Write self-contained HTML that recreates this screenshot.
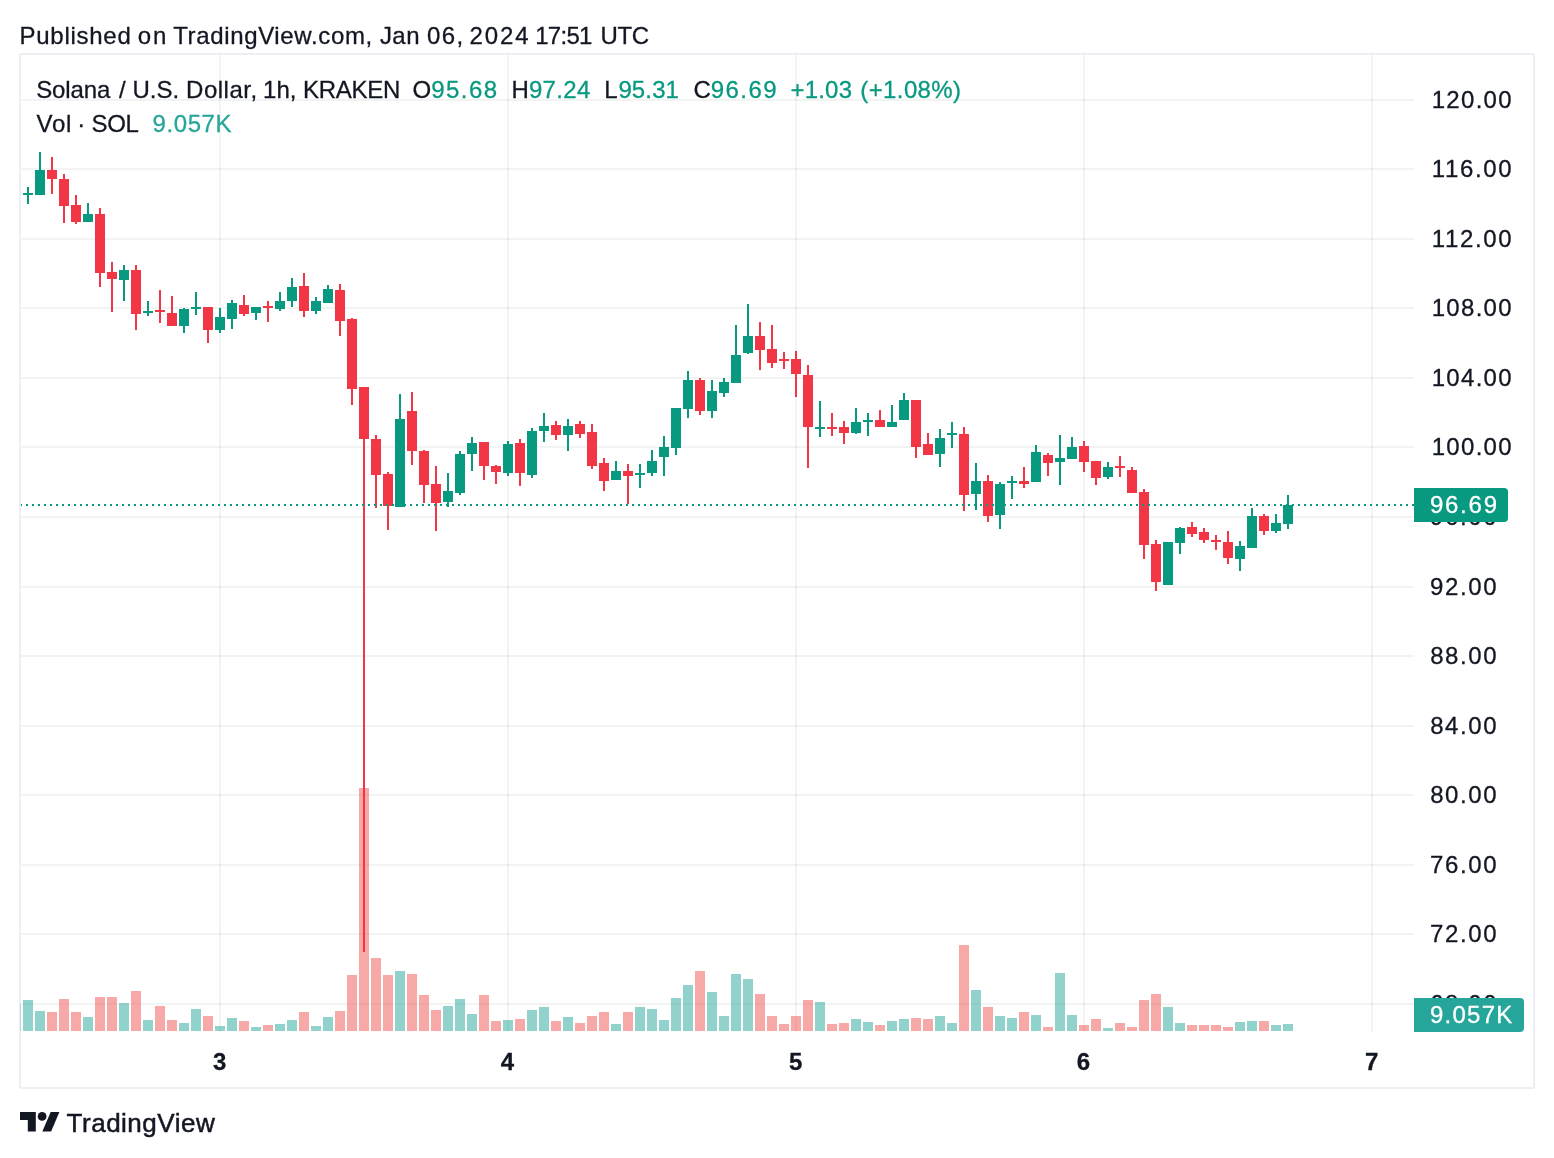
<!DOCTYPE html><html><head><meta charset="utf-8"><title>SOLUSD chart</title>
<style>html,body{margin:0;padding:0;background:#fff}body{width:1554px;height:1158px;overflow:hidden}svg{display:block}text{font-family:"Liberation Sans", Arial, sans-serif}</style></head><body>
<svg width="1554" height="1158" viewBox="0 0 1554 1158">
<rect width="1554" height="1158" fill="#fff"/>
<g shape-rendering="crispEdges" fill="rgba(42,46,57,0.06)">
<rect x="21" y="99" width="1393" height="2"/>
<rect x="21" y="168" width="1393" height="2"/>
<rect x="21" y="238" width="1393" height="2"/>
<rect x="21" y="307" width="1393" height="2"/>
<rect x="21" y="377" width="1393" height="2"/>
<rect x="21" y="446" width="1393" height="2"/>
<rect x="21" y="516" width="1393" height="2"/>
<rect x="21" y="586" width="1393" height="2"/>
<rect x="21" y="655" width="1393" height="2"/>
<rect x="21" y="725" width="1393" height="2"/>
<rect x="21" y="794" width="1393" height="2"/>
<rect x="21" y="864" width="1393" height="2"/>
<rect x="21" y="933" width="1393" height="2"/>
<rect x="21" y="1003" width="1393" height="2"/>
<rect x="219" y="55" width="2" height="977"/>
<rect x="507" y="55" width="2" height="977"/>
<rect x="795" y="55" width="2" height="977"/>
<rect x="1083" y="55" width="2" height="977"/>
<rect x="1371" y="55" width="2" height="977"/>
</g>
<g shape-rendering="crispEdges">
<rect x="23" y="1000" width="10" height="31" fill="rgba(38,166,154,0.5)"/>
<rect x="35" y="1011" width="10" height="20" fill="rgba(38,166,154,0.5)"/>
<rect x="47" y="1012" width="10" height="19" fill="rgba(239,83,80,0.5)"/>
<rect x="59" y="999" width="10" height="32" fill="rgba(239,83,80,0.5)"/>
<rect x="71" y="1012" width="10" height="19" fill="rgba(239,83,80,0.5)"/>
<rect x="83" y="1017" width="10" height="14" fill="rgba(38,166,154,0.5)"/>
<rect x="95" y="997" width="10" height="34" fill="rgba(239,83,80,0.5)"/>
<rect x="107" y="997" width="10" height="34" fill="rgba(239,83,80,0.5)"/>
<rect x="119" y="1003" width="10" height="28" fill="rgba(38,166,154,0.5)"/>
<rect x="131" y="991" width="10" height="40" fill="rgba(239,83,80,0.5)"/>
<rect x="143" y="1020" width="10" height="11" fill="rgba(38,166,154,0.5)"/>
<rect x="155" y="1006" width="10" height="25" fill="rgba(239,83,80,0.5)"/>
<rect x="167" y="1020" width="10" height="11" fill="rgba(239,83,80,0.5)"/>
<rect x="179" y="1023" width="10" height="8" fill="rgba(38,166,154,0.5)"/>
<rect x="191" y="1009" width="10" height="22" fill="rgba(38,166,154,0.5)"/>
<rect x="203" y="1016" width="10" height="15" fill="rgba(239,83,80,0.5)"/>
<rect x="215" y="1026" width="10" height="5" fill="rgba(38,166,154,0.5)"/>
<rect x="227" y="1018" width="10" height="13" fill="rgba(38,166,154,0.5)"/>
<rect x="239" y="1021" width="10" height="10" fill="rgba(239,83,80,0.5)"/>
<rect x="251" y="1027" width="10" height="4" fill="rgba(38,166,154,0.5)"/>
<rect x="263" y="1025" width="10" height="6" fill="rgba(239,83,80,0.5)"/>
<rect x="275" y="1024" width="10" height="7" fill="rgba(38,166,154,0.5)"/>
<rect x="287" y="1020" width="10" height="11" fill="rgba(38,166,154,0.5)"/>
<rect x="299" y="1012" width="10" height="19" fill="rgba(239,83,80,0.5)"/>
<rect x="311" y="1026" width="10" height="5" fill="rgba(38,166,154,0.5)"/>
<rect x="323" y="1017" width="10" height="14" fill="rgba(38,166,154,0.5)"/>
<rect x="335" y="1011" width="10" height="20" fill="rgba(239,83,80,0.5)"/>
<rect x="347" y="975" width="10" height="56" fill="rgba(239,83,80,0.5)"/>
<rect x="359" y="788" width="10" height="243" fill="rgba(239,83,80,0.5)"/>
<rect x="371" y="958" width="10" height="73" fill="rgba(239,83,80,0.5)"/>
<rect x="383" y="975" width="10" height="56" fill="rgba(239,83,80,0.5)"/>
<rect x="395" y="971" width="10" height="60" fill="rgba(38,166,154,0.5)"/>
<rect x="407" y="974" width="10" height="57" fill="rgba(239,83,80,0.5)"/>
<rect x="419" y="995" width="10" height="36" fill="rgba(239,83,80,0.5)"/>
<rect x="431" y="1010" width="10" height="21" fill="rgba(239,83,80,0.5)"/>
<rect x="443" y="1006" width="10" height="25" fill="rgba(38,166,154,0.5)"/>
<rect x="455" y="999" width="10" height="32" fill="rgba(38,166,154,0.5)"/>
<rect x="467" y="1014" width="10" height="17" fill="rgba(38,166,154,0.5)"/>
<rect x="479" y="995" width="10" height="36" fill="rgba(239,83,80,0.5)"/>
<rect x="491" y="1021" width="10" height="10" fill="rgba(239,83,80,0.5)"/>
<rect x="503" y="1020" width="10" height="11" fill="rgba(38,166,154,0.5)"/>
<rect x="515" y="1019" width="10" height="12" fill="rgba(239,83,80,0.5)"/>
<rect x="527" y="1010" width="10" height="21" fill="rgba(38,166,154,0.5)"/>
<rect x="539" y="1007" width="10" height="24" fill="rgba(38,166,154,0.5)"/>
<rect x="551" y="1021" width="10" height="10" fill="rgba(239,83,80,0.5)"/>
<rect x="563" y="1017" width="10" height="14" fill="rgba(38,166,154,0.5)"/>
<rect x="575" y="1023" width="10" height="8" fill="rgba(239,83,80,0.5)"/>
<rect x="587" y="1016" width="10" height="15" fill="rgba(239,83,80,0.5)"/>
<rect x="599" y="1012" width="10" height="19" fill="rgba(239,83,80,0.5)"/>
<rect x="611" y="1024" width="10" height="7" fill="rgba(38,166,154,0.5)"/>
<rect x="623" y="1012" width="10" height="19" fill="rgba(239,83,80,0.5)"/>
<rect x="635" y="1007" width="10" height="24" fill="rgba(38,166,154,0.5)"/>
<rect x="647" y="1009" width="10" height="22" fill="rgba(38,166,154,0.5)"/>
<rect x="659" y="1020" width="10" height="11" fill="rgba(38,166,154,0.5)"/>
<rect x="671" y="998" width="10" height="33" fill="rgba(38,166,154,0.5)"/>
<rect x="683" y="985" width="10" height="46" fill="rgba(38,166,154,0.5)"/>
<rect x="695" y="971" width="10" height="60" fill="rgba(239,83,80,0.5)"/>
<rect x="707" y="992" width="10" height="39" fill="rgba(38,166,154,0.5)"/>
<rect x="719" y="1016" width="10" height="15" fill="rgba(38,166,154,0.5)"/>
<rect x="731" y="974" width="10" height="57" fill="rgba(38,166,154,0.5)"/>
<rect x="743" y="979" width="10" height="52" fill="rgba(38,166,154,0.5)"/>
<rect x="755" y="994" width="10" height="37" fill="rgba(239,83,80,0.5)"/>
<rect x="767" y="1016" width="10" height="15" fill="rgba(239,83,80,0.5)"/>
<rect x="779" y="1024" width="10" height="7" fill="rgba(239,83,80,0.5)"/>
<rect x="791" y="1016" width="10" height="15" fill="rgba(239,83,80,0.5)"/>
<rect x="803" y="1000" width="10" height="31" fill="rgba(239,83,80,0.5)"/>
<rect x="815" y="1002" width="10" height="29" fill="rgba(38,166,154,0.5)"/>
<rect x="827" y="1024" width="10" height="7" fill="rgba(239,83,80,0.5)"/>
<rect x="839" y="1023" width="10" height="8" fill="rgba(239,83,80,0.5)"/>
<rect x="851" y="1019" width="10" height="12" fill="rgba(38,166,154,0.5)"/>
<rect x="863" y="1022" width="10" height="9" fill="rgba(38,166,154,0.5)"/>
<rect x="875" y="1025" width="10" height="6" fill="rgba(239,83,80,0.5)"/>
<rect x="887" y="1021" width="10" height="10" fill="rgba(38,166,154,0.5)"/>
<rect x="899" y="1019" width="10" height="12" fill="rgba(38,166,154,0.5)"/>
<rect x="911" y="1018" width="10" height="13" fill="rgba(239,83,80,0.5)"/>
<rect x="923" y="1019" width="10" height="12" fill="rgba(239,83,80,0.5)"/>
<rect x="935" y="1016" width="10" height="15" fill="rgba(38,166,154,0.5)"/>
<rect x="947" y="1023" width="10" height="8" fill="rgba(38,166,154,0.5)"/>
<rect x="959" y="945" width="10" height="86" fill="rgba(239,83,80,0.5)"/>
<rect x="971" y="990" width="10" height="41" fill="rgba(38,166,154,0.5)"/>
<rect x="983" y="1007" width="10" height="24" fill="rgba(239,83,80,0.5)"/>
<rect x="995" y="1016" width="10" height="15" fill="rgba(38,166,154,0.5)"/>
<rect x="1007" y="1018" width="10" height="13" fill="rgba(38,166,154,0.5)"/>
<rect x="1019" y="1012" width="10" height="19" fill="rgba(239,83,80,0.5)"/>
<rect x="1031" y="1015" width="10" height="16" fill="rgba(38,166,154,0.5)"/>
<rect x="1043" y="1027" width="10" height="4" fill="rgba(239,83,80,0.5)"/>
<rect x="1055" y="973" width="10" height="58" fill="rgba(38,166,154,0.5)"/>
<rect x="1067" y="1015" width="10" height="16" fill="rgba(38,166,154,0.5)"/>
<rect x="1079" y="1025" width="10" height="6" fill="rgba(239,83,80,0.5)"/>
<rect x="1091" y="1019" width="10" height="12" fill="rgba(239,83,80,0.5)"/>
<rect x="1103" y="1028" width="10" height="3" fill="rgba(38,166,154,0.5)"/>
<rect x="1115" y="1023" width="10" height="8" fill="rgba(239,83,80,0.5)"/>
<rect x="1127" y="1027" width="10" height="4" fill="rgba(239,83,80,0.5)"/>
<rect x="1139" y="1000" width="10" height="31" fill="rgba(239,83,80,0.5)"/>
<rect x="1151" y="994" width="10" height="37" fill="rgba(239,83,80,0.5)"/>
<rect x="1163" y="1007" width="10" height="24" fill="rgba(38,166,154,0.5)"/>
<rect x="1175" y="1023" width="10" height="8" fill="rgba(38,166,154,0.5)"/>
<rect x="1187" y="1025" width="10" height="6" fill="rgba(239,83,80,0.5)"/>
<rect x="1199" y="1025" width="10" height="6" fill="rgba(239,83,80,0.5)"/>
<rect x="1211" y="1025" width="10" height="6" fill="rgba(239,83,80,0.5)"/>
<rect x="1223" y="1027" width="10" height="4" fill="rgba(239,83,80,0.5)"/>
<rect x="1235" y="1022" width="10" height="9" fill="rgba(38,166,154,0.5)"/>
<rect x="1247" y="1021" width="10" height="10" fill="rgba(38,166,154,0.5)"/>
<rect x="1259" y="1021" width="10" height="10" fill="rgba(239,83,80,0.5)"/>
<rect x="1271" y="1025" width="10" height="6" fill="rgba(38,166,154,0.5)"/>
<rect x="1283" y="1024" width="10" height="7" fill="rgba(38,166,154,0.5)"/>
</g>
<g shape-rendering="crispEdges" fill="#089981">
<rect x="27" y="187" width="2" height="17"/>
<rect x="23" y="193" width="10" height="2"/>
<rect x="39" y="152" width="2" height="43"/>
<rect x="35" y="170" width="10" height="25"/>
<rect x="87" y="203" width="2" height="19"/>
<rect x="83" y="214" width="10" height="8"/>
<rect x="123" y="265" width="2" height="36"/>
<rect x="119" y="270" width="10" height="10"/>
<rect x="147" y="301" width="2" height="15"/>
<rect x="143" y="311" width="10" height="2"/>
<rect x="183" y="308" width="2" height="25"/>
<rect x="179" y="309" width="10" height="17"/>
<rect x="195" y="292" width="2" height="23"/>
<rect x="191" y="307" width="10" height="2"/>
<rect x="219" y="308" width="2" height="25"/>
<rect x="215" y="317" width="10" height="13"/>
<rect x="231" y="300" width="2" height="29"/>
<rect x="227" y="303" width="10" height="16"/>
<rect x="255" y="307" width="2" height="13"/>
<rect x="251" y="307" width="10" height="6"/>
<rect x="279" y="292" width="2" height="19"/>
<rect x="275" y="301" width="10" height="8"/>
<rect x="291" y="278" width="2" height="29"/>
<rect x="287" y="287" width="10" height="14"/>
<rect x="315" y="297" width="2" height="17"/>
<rect x="311" y="301" width="10" height="10"/>
<rect x="327" y="285" width="2" height="18"/>
<rect x="323" y="289" width="10" height="14"/>
<rect x="399" y="394" width="2" height="113"/>
<rect x="395" y="419" width="10" height="88"/>
<rect x="447" y="473" width="2" height="34"/>
<rect x="443" y="491" width="10" height="11"/>
<rect x="459" y="451" width="2" height="44"/>
<rect x="455" y="454" width="10" height="39"/>
<rect x="471" y="437" width="2" height="34"/>
<rect x="467" y="443" width="10" height="11"/>
<rect x="507" y="441" width="2" height="35"/>
<rect x="503" y="444" width="10" height="29"/>
<rect x="531" y="428" width="2" height="50"/>
<rect x="527" y="431" width="10" height="44"/>
<rect x="543" y="413" width="2" height="29"/>
<rect x="539" y="426" width="10" height="5"/>
<rect x="567" y="419" width="2" height="32"/>
<rect x="563" y="426" width="10" height="9"/>
<rect x="615" y="461" width="2" height="19"/>
<rect x="611" y="471" width="10" height="9"/>
<rect x="639" y="464" width="2" height="24"/>
<rect x="635" y="473" width="10" height="2"/>
<rect x="651" y="450" width="2" height="26"/>
<rect x="647" y="461" width="10" height="12"/>
<rect x="663" y="436" width="2" height="40"/>
<rect x="659" y="447" width="10" height="10"/>
<rect x="675" y="408" width="2" height="47"/>
<rect x="671" y="408" width="10" height="40"/>
<rect x="687" y="371" width="2" height="47"/>
<rect x="683" y="380" width="10" height="29"/>
<rect x="711" y="380" width="2" height="38"/>
<rect x="707" y="391" width="10" height="20"/>
<rect x="723" y="378" width="2" height="19"/>
<rect x="719" y="382" width="10" height="11"/>
<rect x="735" y="325" width="2" height="58"/>
<rect x="731" y="355" width="10" height="28"/>
<rect x="747" y="304" width="2" height="50"/>
<rect x="743" y="336" width="10" height="17"/>
<rect x="819" y="401" width="2" height="36"/>
<rect x="815" y="427" width="10" height="2"/>
<rect x="855" y="408" width="2" height="26"/>
<rect x="851" y="422" width="10" height="11"/>
<rect x="867" y="413" width="2" height="23"/>
<rect x="863" y="420" width="10" height="2"/>
<rect x="891" y="405" width="2" height="22"/>
<rect x="887" y="422" width="10" height="5"/>
<rect x="903" y="393" width="2" height="27"/>
<rect x="899" y="400" width="10" height="20"/>
<rect x="939" y="429" width="2" height="38"/>
<rect x="935" y="438" width="10" height="16"/>
<rect x="951" y="422" width="2" height="26"/>
<rect x="947" y="433" width="10" height="2"/>
<rect x="975" y="463" width="2" height="47"/>
<rect x="971" y="481" width="10" height="13"/>
<rect x="999" y="482" width="2" height="47"/>
<rect x="995" y="484" width="10" height="31"/>
<rect x="1011" y="476" width="2" height="23"/>
<rect x="1007" y="481" width="10" height="2"/>
<rect x="1035" y="445" width="2" height="37"/>
<rect x="1031" y="452" width="10" height="30"/>
<rect x="1059" y="435" width="2" height="50"/>
<rect x="1055" y="458" width="10" height="4"/>
<rect x="1071" y="437" width="2" height="22"/>
<rect x="1067" y="447" width="10" height="12"/>
<rect x="1107" y="462" width="2" height="17"/>
<rect x="1103" y="467" width="10" height="10"/>
<rect x="1167" y="542" width="2" height="43"/>
<rect x="1163" y="542" width="10" height="43"/>
<rect x="1179" y="527" width="2" height="27"/>
<rect x="1175" y="528" width="10" height="15"/>
<rect x="1239" y="541" width="2" height="30"/>
<rect x="1235" y="546" width="10" height="13"/>
<rect x="1251" y="508" width="2" height="40"/>
<rect x="1247" y="516" width="10" height="32"/>
<rect x="1275" y="514" width="2" height="19"/>
<rect x="1271" y="523" width="10" height="8"/>
<rect x="1287" y="495" width="2" height="34"/>
<rect x="1283" y="505" width="10" height="19"/>
</g>
<g shape-rendering="crispEdges" fill="#F23645">
<rect x="51" y="157" width="2" height="37"/>
<rect x="47" y="170" width="10" height="9"/>
<rect x="63" y="174" width="2" height="49"/>
<rect x="59" y="179" width="10" height="27"/>
<rect x="75" y="195" width="2" height="29"/>
<rect x="71" y="205" width="10" height="17"/>
<rect x="99" y="208" width="2" height="79"/>
<rect x="95" y="214" width="10" height="59"/>
<rect x="111" y="262" width="2" height="50"/>
<rect x="107" y="272" width="10" height="7"/>
<rect x="135" y="265" width="2" height="65"/>
<rect x="131" y="270" width="10" height="44"/>
<rect x="159" y="290" width="2" height="33"/>
<rect x="155" y="310" width="10" height="2"/>
<rect x="171" y="296" width="2" height="30"/>
<rect x="167" y="313" width="10" height="13"/>
<rect x="207" y="307" width="2" height="36"/>
<rect x="203" y="307" width="10" height="23"/>
<rect x="243" y="295" width="2" height="21"/>
<rect x="239" y="305" width="10" height="9"/>
<rect x="267" y="301" width="2" height="21"/>
<rect x="263" y="306" width="10" height="2"/>
<rect x="303" y="273" width="2" height="44"/>
<rect x="299" y="286" width="10" height="25"/>
<rect x="339" y="284" width="2" height="52"/>
<rect x="335" y="290" width="10" height="31"/>
<rect x="351" y="318" width="2" height="87"/>
<rect x="347" y="319" width="10" height="70"/>
<rect x="363" y="387" width="2" height="565"/>
<rect x="359" y="387" width="10" height="52"/>
<rect x="375" y="435" width="2" height="73"/>
<rect x="371" y="439" width="10" height="36"/>
<rect x="387" y="472" width="2" height="58"/>
<rect x="383" y="474" width="10" height="32"/>
<rect x="411" y="392" width="2" height="73"/>
<rect x="407" y="411" width="10" height="40"/>
<rect x="423" y="450" width="2" height="53"/>
<rect x="419" y="451" width="10" height="34"/>
<rect x="435" y="466" width="2" height="65"/>
<rect x="431" y="484" width="10" height="19"/>
<rect x="483" y="442" width="2" height="38"/>
<rect x="479" y="442" width="10" height="24"/>
<rect x="495" y="465" width="2" height="19"/>
<rect x="491" y="466" width="10" height="6"/>
<rect x="519" y="439" width="2" height="47"/>
<rect x="515" y="443" width="10" height="30"/>
<rect x="555" y="421" width="2" height="19"/>
<rect x="551" y="425" width="10" height="10"/>
<rect x="579" y="421" width="2" height="17"/>
<rect x="575" y="424" width="10" height="10"/>
<rect x="591" y="424" width="2" height="45"/>
<rect x="587" y="432" width="10" height="34"/>
<rect x="603" y="458" width="2" height="33"/>
<rect x="599" y="463" width="10" height="18"/>
<rect x="627" y="464" width="2" height="40"/>
<rect x="623" y="471" width="10" height="5"/>
<rect x="699" y="378" width="2" height="37"/>
<rect x="695" y="380" width="10" height="31"/>
<rect x="759" y="322" width="2" height="48"/>
<rect x="755" y="336" width="10" height="14"/>
<rect x="771" y="325" width="2" height="43"/>
<rect x="767" y="349" width="10" height="14"/>
<rect x="783" y="352" width="2" height="17"/>
<rect x="779" y="359" width="10" height="2"/>
<rect x="795" y="351" width="2" height="46"/>
<rect x="791" y="359" width="10" height="15"/>
<rect x="807" y="365" width="2" height="103"/>
<rect x="803" y="375" width="10" height="52"/>
<rect x="831" y="413" width="2" height="23"/>
<rect x="827" y="427" width="10" height="2"/>
<rect x="843" y="421" width="2" height="23"/>
<rect x="839" y="427" width="10" height="6"/>
<rect x="879" y="410" width="2" height="17"/>
<rect x="875" y="420" width="10" height="7"/>
<rect x="915" y="400" width="2" height="58"/>
<rect x="911" y="400" width="10" height="47"/>
<rect x="927" y="433" width="2" height="22"/>
<rect x="923" y="444" width="10" height="11"/>
<rect x="963" y="427" width="2" height="84"/>
<rect x="959" y="434" width="10" height="61"/>
<rect x="987" y="475" width="2" height="47"/>
<rect x="983" y="481" width="10" height="35"/>
<rect x="1023" y="467" width="2" height="21"/>
<rect x="1019" y="481" width="10" height="3"/>
<rect x="1047" y="453" width="2" height="23"/>
<rect x="1043" y="455" width="10" height="8"/>
<rect x="1083" y="441" width="2" height="31"/>
<rect x="1079" y="446" width="10" height="16"/>
<rect x="1095" y="461" width="2" height="24"/>
<rect x="1091" y="461" width="10" height="17"/>
<rect x="1119" y="456" width="2" height="21"/>
<rect x="1115" y="466" width="10" height="2"/>
<rect x="1131" y="467" width="2" height="26"/>
<rect x="1127" y="470" width="10" height="23"/>
<rect x="1143" y="489" width="2" height="70"/>
<rect x="1139" y="492" width="10" height="53"/>
<rect x="1155" y="540" width="2" height="51"/>
<rect x="1151" y="544" width="10" height="38"/>
<rect x="1191" y="522" width="2" height="15"/>
<rect x="1187" y="527" width="10" height="7"/>
<rect x="1203" y="528" width="2" height="15"/>
<rect x="1199" y="532" width="10" height="8"/>
<rect x="1215" y="535" width="2" height="15"/>
<rect x="1211" y="540" width="10" height="2"/>
<rect x="1227" y="531" width="2" height="33"/>
<rect x="1223" y="542" width="10" height="16"/>
<rect x="1263" y="514" width="2" height="21"/>
<rect x="1259" y="516" width="10" height="15"/>
</g>
<g shape-rendering="crispEdges" fill="#089981">
<rect x="20" y="504" width="2" height="2"/>
<rect x="26" y="504" width="2" height="2"/>
<rect x="32" y="504" width="2" height="2"/>
<rect x="38" y="504" width="2" height="2"/>
<rect x="44" y="504" width="2" height="2"/>
<rect x="50" y="504" width="2" height="2"/>
<rect x="56" y="504" width="2" height="2"/>
<rect x="62" y="504" width="2" height="2"/>
<rect x="68" y="504" width="2" height="2"/>
<rect x="74" y="504" width="2" height="2"/>
<rect x="80" y="504" width="2" height="2"/>
<rect x="86" y="504" width="2" height="2"/>
<rect x="92" y="504" width="2" height="2"/>
<rect x="98" y="504" width="2" height="2"/>
<rect x="104" y="504" width="2" height="2"/>
<rect x="110" y="504" width="2" height="2"/>
<rect x="116" y="504" width="2" height="2"/>
<rect x="122" y="504" width="2" height="2"/>
<rect x="128" y="504" width="2" height="2"/>
<rect x="134" y="504" width="2" height="2"/>
<rect x="140" y="504" width="2" height="2"/>
<rect x="146" y="504" width="2" height="2"/>
<rect x="152" y="504" width="2" height="2"/>
<rect x="158" y="504" width="2" height="2"/>
<rect x="164" y="504" width="2" height="2"/>
<rect x="170" y="504" width="2" height="2"/>
<rect x="176" y="504" width="2" height="2"/>
<rect x="182" y="504" width="2" height="2"/>
<rect x="188" y="504" width="2" height="2"/>
<rect x="194" y="504" width="2" height="2"/>
<rect x="200" y="504" width="2" height="2"/>
<rect x="206" y="504" width="2" height="2"/>
<rect x="212" y="504" width="2" height="2"/>
<rect x="218" y="504" width="2" height="2"/>
<rect x="224" y="504" width="2" height="2"/>
<rect x="230" y="504" width="2" height="2"/>
<rect x="236" y="504" width="2" height="2"/>
<rect x="242" y="504" width="2" height="2"/>
<rect x="248" y="504" width="2" height="2"/>
<rect x="254" y="504" width="2" height="2"/>
<rect x="260" y="504" width="2" height="2"/>
<rect x="266" y="504" width="2" height="2"/>
<rect x="272" y="504" width="2" height="2"/>
<rect x="278" y="504" width="2" height="2"/>
<rect x="284" y="504" width="2" height="2"/>
<rect x="290" y="504" width="2" height="2"/>
<rect x="296" y="504" width="2" height="2"/>
<rect x="302" y="504" width="2" height="2"/>
<rect x="308" y="504" width="2" height="2"/>
<rect x="314" y="504" width="2" height="2"/>
<rect x="320" y="504" width="2" height="2"/>
<rect x="326" y="504" width="2" height="2"/>
<rect x="332" y="504" width="2" height="2"/>
<rect x="338" y="504" width="2" height="2"/>
<rect x="344" y="504" width="2" height="2"/>
<rect x="350" y="504" width="2" height="2"/>
<rect x="356" y="504" width="2" height="2"/>
<rect x="362" y="504" width="2" height="2"/>
<rect x="368" y="504" width="2" height="2"/>
<rect x="374" y="504" width="2" height="2"/>
<rect x="380" y="504" width="2" height="2"/>
<rect x="386" y="504" width="2" height="2"/>
<rect x="392" y="504" width="2" height="2"/>
<rect x="398" y="504" width="2" height="2"/>
<rect x="404" y="504" width="2" height="2"/>
<rect x="410" y="504" width="2" height="2"/>
<rect x="416" y="504" width="2" height="2"/>
<rect x="422" y="504" width="2" height="2"/>
<rect x="428" y="504" width="2" height="2"/>
<rect x="434" y="504" width="2" height="2"/>
<rect x="440" y="504" width="2" height="2"/>
<rect x="446" y="504" width="2" height="2"/>
<rect x="452" y="504" width="2" height="2"/>
<rect x="458" y="504" width="2" height="2"/>
<rect x="464" y="504" width="2" height="2"/>
<rect x="470" y="504" width="2" height="2"/>
<rect x="476" y="504" width="2" height="2"/>
<rect x="482" y="504" width="2" height="2"/>
<rect x="488" y="504" width="2" height="2"/>
<rect x="494" y="504" width="2" height="2"/>
<rect x="500" y="504" width="2" height="2"/>
<rect x="506" y="504" width="2" height="2"/>
<rect x="512" y="504" width="2" height="2"/>
<rect x="518" y="504" width="2" height="2"/>
<rect x="524" y="504" width="2" height="2"/>
<rect x="530" y="504" width="2" height="2"/>
<rect x="536" y="504" width="2" height="2"/>
<rect x="542" y="504" width="2" height="2"/>
<rect x="548" y="504" width="2" height="2"/>
<rect x="554" y="504" width="2" height="2"/>
<rect x="560" y="504" width="2" height="2"/>
<rect x="566" y="504" width="2" height="2"/>
<rect x="572" y="504" width="2" height="2"/>
<rect x="578" y="504" width="2" height="2"/>
<rect x="584" y="504" width="2" height="2"/>
<rect x="590" y="504" width="2" height="2"/>
<rect x="596" y="504" width="2" height="2"/>
<rect x="602" y="504" width="2" height="2"/>
<rect x="608" y="504" width="2" height="2"/>
<rect x="614" y="504" width="2" height="2"/>
<rect x="620" y="504" width="2" height="2"/>
<rect x="626" y="504" width="2" height="2"/>
<rect x="632" y="504" width="2" height="2"/>
<rect x="638" y="504" width="2" height="2"/>
<rect x="644" y="504" width="2" height="2"/>
<rect x="650" y="504" width="2" height="2"/>
<rect x="656" y="504" width="2" height="2"/>
<rect x="662" y="504" width="2" height="2"/>
<rect x="668" y="504" width="2" height="2"/>
<rect x="674" y="504" width="2" height="2"/>
<rect x="680" y="504" width="2" height="2"/>
<rect x="686" y="504" width="2" height="2"/>
<rect x="692" y="504" width="2" height="2"/>
<rect x="698" y="504" width="2" height="2"/>
<rect x="704" y="504" width="2" height="2"/>
<rect x="710" y="504" width="2" height="2"/>
<rect x="716" y="504" width="2" height="2"/>
<rect x="722" y="504" width="2" height="2"/>
<rect x="728" y="504" width="2" height="2"/>
<rect x="734" y="504" width="2" height="2"/>
<rect x="740" y="504" width="2" height="2"/>
<rect x="746" y="504" width="2" height="2"/>
<rect x="752" y="504" width="2" height="2"/>
<rect x="758" y="504" width="2" height="2"/>
<rect x="764" y="504" width="2" height="2"/>
<rect x="770" y="504" width="2" height="2"/>
<rect x="776" y="504" width="2" height="2"/>
<rect x="782" y="504" width="2" height="2"/>
<rect x="788" y="504" width="2" height="2"/>
<rect x="794" y="504" width="2" height="2"/>
<rect x="800" y="504" width="2" height="2"/>
<rect x="806" y="504" width="2" height="2"/>
<rect x="812" y="504" width="2" height="2"/>
<rect x="818" y="504" width="2" height="2"/>
<rect x="824" y="504" width="2" height="2"/>
<rect x="830" y="504" width="2" height="2"/>
<rect x="836" y="504" width="2" height="2"/>
<rect x="842" y="504" width="2" height="2"/>
<rect x="848" y="504" width="2" height="2"/>
<rect x="854" y="504" width="2" height="2"/>
<rect x="860" y="504" width="2" height="2"/>
<rect x="866" y="504" width="2" height="2"/>
<rect x="872" y="504" width="2" height="2"/>
<rect x="878" y="504" width="2" height="2"/>
<rect x="884" y="504" width="2" height="2"/>
<rect x="890" y="504" width="2" height="2"/>
<rect x="896" y="504" width="2" height="2"/>
<rect x="902" y="504" width="2" height="2"/>
<rect x="908" y="504" width="2" height="2"/>
<rect x="914" y="504" width="2" height="2"/>
<rect x="920" y="504" width="2" height="2"/>
<rect x="926" y="504" width="2" height="2"/>
<rect x="932" y="504" width="2" height="2"/>
<rect x="938" y="504" width="2" height="2"/>
<rect x="944" y="504" width="2" height="2"/>
<rect x="950" y="504" width="2" height="2"/>
<rect x="956" y="504" width="2" height="2"/>
<rect x="962" y="504" width="2" height="2"/>
<rect x="968" y="504" width="2" height="2"/>
<rect x="974" y="504" width="2" height="2"/>
<rect x="980" y="504" width="2" height="2"/>
<rect x="986" y="504" width="2" height="2"/>
<rect x="992" y="504" width="2" height="2"/>
<rect x="998" y="504" width="2" height="2"/>
<rect x="1004" y="504" width="2" height="2"/>
<rect x="1010" y="504" width="2" height="2"/>
<rect x="1016" y="504" width="2" height="2"/>
<rect x="1022" y="504" width="2" height="2"/>
<rect x="1028" y="504" width="2" height="2"/>
<rect x="1034" y="504" width="2" height="2"/>
<rect x="1040" y="504" width="2" height="2"/>
<rect x="1046" y="504" width="2" height="2"/>
<rect x="1052" y="504" width="2" height="2"/>
<rect x="1058" y="504" width="2" height="2"/>
<rect x="1064" y="504" width="2" height="2"/>
<rect x="1070" y="504" width="2" height="2"/>
<rect x="1076" y="504" width="2" height="2"/>
<rect x="1082" y="504" width="2" height="2"/>
<rect x="1088" y="504" width="2" height="2"/>
<rect x="1094" y="504" width="2" height="2"/>
<rect x="1100" y="504" width="2" height="2"/>
<rect x="1106" y="504" width="2" height="2"/>
<rect x="1112" y="504" width="2" height="2"/>
<rect x="1118" y="504" width="2" height="2"/>
<rect x="1124" y="504" width="2" height="2"/>
<rect x="1130" y="504" width="2" height="2"/>
<rect x="1136" y="504" width="2" height="2"/>
<rect x="1142" y="504" width="2" height="2"/>
<rect x="1148" y="504" width="2" height="2"/>
<rect x="1154" y="504" width="2" height="2"/>
<rect x="1160" y="504" width="2" height="2"/>
<rect x="1166" y="504" width="2" height="2"/>
<rect x="1172" y="504" width="2" height="2"/>
<rect x="1178" y="504" width="2" height="2"/>
<rect x="1184" y="504" width="2" height="2"/>
<rect x="1190" y="504" width="2" height="2"/>
<rect x="1196" y="504" width="2" height="2"/>
<rect x="1202" y="504" width="2" height="2"/>
<rect x="1208" y="504" width="2" height="2"/>
<rect x="1214" y="504" width="2" height="2"/>
<rect x="1220" y="504" width="2" height="2"/>
<rect x="1226" y="504" width="2" height="2"/>
<rect x="1232" y="504" width="2" height="2"/>
<rect x="1238" y="504" width="2" height="2"/>
<rect x="1244" y="504" width="2" height="2"/>
<rect x="1250" y="504" width="2" height="2"/>
<rect x="1256" y="504" width="2" height="2"/>
<rect x="1262" y="504" width="2" height="2"/>
<rect x="1268" y="504" width="2" height="2"/>
<rect x="1274" y="504" width="2" height="2"/>
<rect x="1280" y="504" width="2" height="2"/>
<rect x="1286" y="504" width="2" height="2"/>
<rect x="1292" y="504" width="2" height="2"/>
<rect x="1298" y="504" width="2" height="2"/>
<rect x="1304" y="504" width="2" height="2"/>
<rect x="1310" y="504" width="2" height="2"/>
<rect x="1316" y="504" width="2" height="2"/>
<rect x="1322" y="504" width="2" height="2"/>
<rect x="1328" y="504" width="2" height="2"/>
<rect x="1334" y="504" width="2" height="2"/>
<rect x="1340" y="504" width="2" height="2"/>
<rect x="1346" y="504" width="2" height="2"/>
<rect x="1352" y="504" width="2" height="2"/>
<rect x="1358" y="504" width="2" height="2"/>
<rect x="1364" y="504" width="2" height="2"/>
<rect x="1370" y="504" width="2" height="2"/>
<rect x="1376" y="504" width="2" height="2"/>
<rect x="1382" y="504" width="2" height="2"/>
<rect x="1388" y="504" width="2" height="2"/>
<rect x="1394" y="504" width="2" height="2"/>
<rect x="1400" y="504" width="2" height="2"/>
<rect x="1406" y="504" width="2" height="2"/>
<rect x="1412" y="504" width="2" height="2"/>
</g>
<rect x="20" y="54" width="1514" height="1034" fill="none" stroke="#EEEFF4" stroke-width="2" rx="1"/>
<rect x="20" y="1004" width="1" height="27" fill="rgba(38,166,154,0.28)" shape-rendering="crispEdges"/>
<text x="1431.7" y="108.0" font-size="24" fill="#131722" letter-spacing="1.30" stroke="#131722" stroke-width="0.3">120.00</text>
<text x="1431.7" y="177.0" font-size="24" fill="#131722" letter-spacing="1.65" stroke="#131722" stroke-width="0.3">116.00</text>
<text x="1431.7" y="247.0" font-size="24" fill="#131722" letter-spacing="1.65" stroke="#131722" stroke-width="0.3">112.00</text>
<text x="1431.7" y="316.0" font-size="24" fill="#131722" letter-spacing="1.30" stroke="#131722" stroke-width="0.3">108.00</text>
<text x="1431.7" y="386.0" font-size="24" fill="#131722" letter-spacing="1.30" stroke="#131722" stroke-width="0.3">104.00</text>
<text x="1431.7" y="455.0" font-size="24" fill="#131722" letter-spacing="1.30" stroke="#131722" stroke-width="0.3">100.00</text>
<text x="1429.9" y="525.0" font-size="24" fill="#131722" letter-spacing="1.67" stroke="#131722" stroke-width="0.3">96.00</text>
<text x="1429.9" y="595.0" font-size="24" fill="#131722" letter-spacing="1.67" stroke="#131722" stroke-width="0.3">92.00</text>
<text x="1430.2" y="664.0" font-size="24" fill="#131722" letter-spacing="1.57" stroke="#131722" stroke-width="0.3">88.00</text>
<text x="1430.2" y="734.0" font-size="24" fill="#131722" letter-spacing="1.57" stroke="#131722" stroke-width="0.3">84.00</text>
<text x="1430.2" y="803.0" font-size="24" fill="#131722" letter-spacing="1.57" stroke="#131722" stroke-width="0.3">80.00</text>
<text x="1429.9" y="873.0" font-size="24" fill="#131722" letter-spacing="1.67" stroke="#131722" stroke-width="0.3">76.00</text>
<text x="1429.9" y="942.0" font-size="24" fill="#131722" letter-spacing="1.67" stroke="#131722" stroke-width="0.3">72.00</text>
<text x="1429.9" y="1012.0" font-size="24" fill="#131722" letter-spacing="1.67" stroke="#131722" stroke-width="0.3">68.00</text>
<path d="M1414 488H1504a4 4 0 0 1 4 4V518a4 4 0 0 1-4 4H1414Z" fill="#089981"/>
<path d="M1414 998H1520a4 4 0 0 1 4 4V1028a4 4 0 0 1-4 4H1414Z" fill="#26A69A"/>
<text x="1429.9" y="513.0" font-size="24" fill="#fff" letter-spacing="1.76" stroke="#fff" stroke-width="0.3">96.69</text>
<text x="1429.9" y="1023.3" font-size="24" fill="#fff" letter-spacing="1.26" stroke="#fff" stroke-width="0.3">9.057K</text>
<text x="212.9" y="1070.0" font-size="24" font-weight="bold" fill="#131722" stroke="#131722" stroke-width="0.3">3</text>
<text x="500.8" y="1070.0" font-size="24" font-weight="bold" fill="#131722" stroke="#131722" stroke-width="0.3">4</text>
<text x="788.9" y="1070.0" font-size="24" font-weight="bold" fill="#131722" stroke="#131722" stroke-width="0.3">5</text>
<text x="1076.8" y="1070.0" font-size="24" font-weight="bold" fill="#131722" stroke="#131722" stroke-width="0.3">6</text>
<text x="1364.9" y="1070.0" font-size="24" font-weight="bold" fill="#131722" stroke="#131722" stroke-width="0.3">7</text>
<text x="19.5" y="44.0" font-size="24" fill="#131722" letter-spacing="0.73" stroke="#131722" stroke-width="0.3">Published</text>
<text x="137.7" y="44.0" font-size="24" fill="#131722" letter-spacing="1.90" stroke="#131722" stroke-width="0.3">on</text>
<text x="173.2" y="44.0" font-size="24" fill="#131722" letter-spacing="0.64" stroke="#131722" stroke-width="0.3">TradingView.com,</text>
<text x="379.9" y="44.0" font-size="24" fill="#131722" letter-spacing="0.46" stroke="#131722" stroke-width="0.3">Jan</text>
<text x="427.1" y="44.0" font-size="24" fill="#131722" letter-spacing="1.34" stroke="#131722" stroke-width="0.3">06,</text>
<text x="469.6" y="44.0" font-size="24" fill="#131722" letter-spacing="1.88" stroke="#131722" stroke-width="0.3">2024</text>
<text x="535.2" y="44.0" font-size="24" fill="#131722" letter-spacing="-0.72" stroke="#131722" stroke-width="0.3">17:51</text>
<text x="600.5" y="44.0" font-size="24" fill="#131722" letter-spacing="-0.35" stroke="#131722" stroke-width="0.3">UTC</text>
<text x="36.2" y="97.5" font-size="24" fill="#131722" letter-spacing="-0.13" stroke="#131722" stroke-width="0.3">Solana</text>
<text x="118.9" y="97.5" font-size="24" fill="#131722" stroke="#131722" stroke-width="0.3">/</text>
<text x="132.4" y="97.5" font-size="24" fill="#131722" letter-spacing="0.03" stroke="#131722" stroke-width="0.3">U.S.</text>
<text x="186.1" y="97.5" font-size="24" fill="#131722" letter-spacing="0.49" stroke="#131722" stroke-width="0.3">Dollar,</text>
<text x="263.0" y="97.5" font-size="24" fill="#131722" letter-spacing="0.06" stroke="#131722" stroke-width="0.3">1h,</text>
<text x="302.9" y="97.5" font-size="24" fill="#131722" letter-spacing="-0.27" stroke="#131722" stroke-width="0.3">KRAKEN</text>
<text x="412.6" y="97.5" font-size="24" fill="#131722" stroke="#131722" stroke-width="0.3">O</text>
<text x="431.3" y="97.5" font-size="24" fill="#089981" letter-spacing="1.43" stroke="#089981" stroke-width="0.3">95.68</text>
<text x="511.4" y="97.5" font-size="24" fill="#131722" stroke="#131722" stroke-width="0.3">H</text>
<text x="528.9" y="97.5" font-size="24" fill="#089981" letter-spacing="0.34" stroke="#089981" stroke-width="0.3">97.24</text>
<text x="604.3" y="97.5" font-size="24" fill="#131722" stroke="#131722" stroke-width="0.3">L</text>
<text x="618.4" y="97.5" font-size="24" fill="#089981" letter-spacing="0.13" stroke="#089981" stroke-width="0.3">95.31</text>
<text x="693.4" y="97.5" font-size="24" fill="#131722" stroke="#131722" stroke-width="0.3">C</text>
<text x="710.8" y="97.5" font-size="24" fill="#089981" letter-spacing="1.41" stroke="#089981" stroke-width="0.3">96.69</text>
<text x="790.4" y="97.5" font-size="24" fill="#089981" letter-spacing="0.22" stroke="#089981" stroke-width="0.3">+1.03</text>
<text x="860.3" y="97.5" font-size="24" fill="#089981" letter-spacing="0.39" stroke="#089981" stroke-width="0.3">(+1.08%)</text>
<text x="36.6" y="132.0" font-size="24" fill="#131722" letter-spacing="0.71" stroke="#131722" stroke-width="0.3">Vol</text>
<text x="77.3" y="132.0" font-size="24" fill="#131722" stroke="#131722" stroke-width="0.3">·</text>
<text x="91.5" y="132.0" font-size="24" fill="#131722" letter-spacing="-0.34" stroke="#131722" stroke-width="0.3">SOL</text>
<text x="152.5" y="132.0" font-size="24" fill="#26A69A" letter-spacing="0.60" stroke="#26A69A" stroke-width="0.3">9.057K</text>
<text x="66.6" y="1131.7" font-size="26" fill="#131722" letter-spacing="0.50" stroke="#131722" stroke-width="0.5">TradingView</text>
<g fill="#131722">
<path d="M20 1112H35.8V1131.4H27.8V1120H20Z"/>
<circle cx="42.1" cy="1116.4" r="4.4"/>
<path d="M50.7 1112H59.4L51.1 1131.4H42.3Z"/>
</g>
</svg></body></html>
